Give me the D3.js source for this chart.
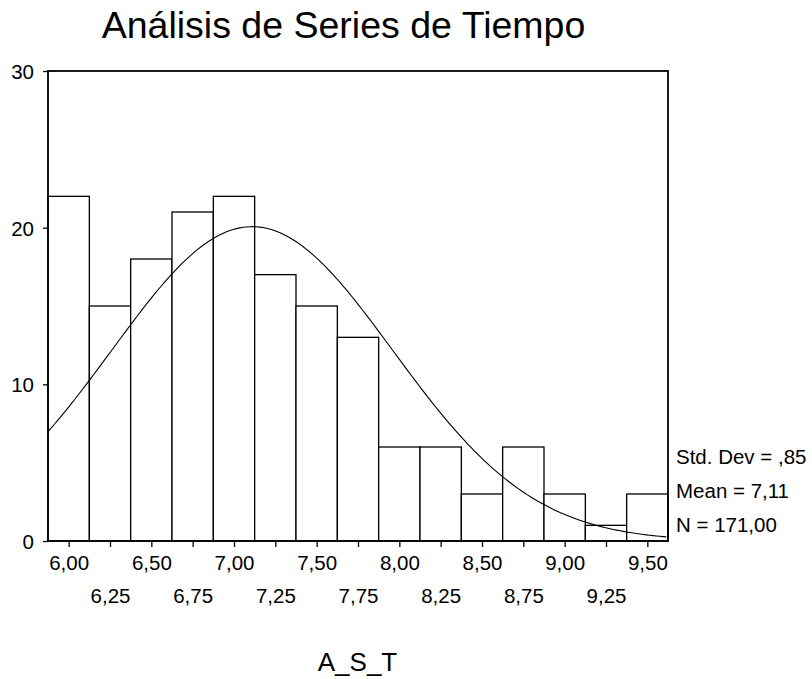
<!DOCTYPE html>
<meta charset="utf-8">
<style>
body { margin: 0; background: #fff; }
text { font-family: Arial, "Liberation Sans", sans-serif; fill: #000; }
</style>
<body>
<svg width="812" height="679"></svg>
<script src="https://d3js.org/d3.v7.min.js"></script>
<script>
// histogram bins (midpoints) and counts
var binMids = [6.00, 6.25, 6.50, 6.75, 7.00, 7.25, 7.50, 7.75, 8.00, 8.25, 8.50, 8.75, 9.00, 9.25, 9.50];
var counts  = [22, 15, 18, 21, 22, 17, 15, 13, 6, 6, 3, 6, 3, 1, 3];
var binWidth = 0.25;
var yTicks = [0, 10, 20, 30];
// statistics printed beside the chart (the normal curve is the fit they describe)
var stdDev = 0.85, mean = 7.11, nCases = 171;
var statLabels = ["Std. Dev = ,85", "Mean = 7,11", "N = 171,00"];

var svg = d3.select("svg"),
    margin = {top: 71, left: 48},
    width = 620,
    height = 470,
    g = svg.append("g").attr("transform", "translate(" + margin.left + "," + margin.top + ")");

var x = d3.scaleLinear()
    .domain([binMids[0] - binWidth / 2, binMids[binMids.length - 1] + binWidth / 2])
    .range([0, width]);

var y = d3.scaleLinear()
    .domain([0, 30])
    .range([height, 0]);

var comma = function(v) { return d3.format(".2f")(v).replace(".", ","); };

// bars
g.selectAll("rect.bar")
  .data(counts)
  .enter().append("rect")
    .attr("class", "bar")
    .attr("x", function(d, i) { return x(binMids[i] - binWidth / 2); })
    .attr("y", function(d) { return y(d); })
    .attr("width", x(binWidth) - x(0))
    .attr("height", function(d) { return y(0) - y(d); })
    .attr("fill", "#fff")
    .attr("stroke", "#000")
    .attr("stroke-width", 1.3);

// normal curve
var curve = d3.range(x.domain()[0], x.domain()[1] + 0.001, 0.02).map(function(v) {
  var z = (v - mean) / stdDev;
  return [v, nCases * binWidth / (stdDev * Math.sqrt(2 * Math.PI)) * Math.exp(-z * z / 2)];
});
g.append("path")
    .datum(curve)
    .attr("fill", "none")
    .attr("stroke", "#000")
    .attr("stroke-width", 1.1)
    .attr("d", d3.line()
        .x(function(d) { return x(d[0]); })
        .y(function(d) { return y(d[1]); }));

// frame
g.append("rect")
    .attr("width", width)
    .attr("height", height)
    .attr("fill", "none")
    .attr("stroke", "#000")
    .attr("stroke-width", 1.8);

// y axis
var yAxis = g.append("g")
    .call(d3.axisLeft(y).tickValues(yTicks).tickSize(5).tickPadding(9));
yAxis.select(".domain").remove();
yAxis.selectAll("text").style("font-size", "20.5px").attr("dy", "0.36em");
yAxis.selectAll("line").attr("stroke-width", 1.3);

// x axis, labels alternating between two rows
var xAxis = g.append("g")
    .attr("transform", "translate(0," + height + ")")
    .call(d3.axisBottom(x).tickValues(binMids).tickSize(6).tickFormat(comma));
xAxis.select(".domain").remove();
xAxis.selectAll("line").attr("stroke-width", 1.3);
xAxis.selectAll("text")
    .style("font-size", "20.5px")
    .attr("y", 0)
    .attr("dy", function(d, i) { return i % 2 === 0 ? 29 : 62; });

// title and axis label
svg.append("text")
    .attr("x", 343.5)
    .attr("y", 38)
    .attr("text-anchor", "middle")
    .style("font-size", "37.5px")
    .text("Análisis de Series de Tiempo");

svg.append("text")
    .attr("x", 357.5)
    .attr("y", 671)
    .attr("text-anchor", "middle")
    .style("font-size", "26px")
    .text("A_S_T");

// statistics
svg.selectAll("text.stat")
  .data(statLabels)
  .enter().append("text")
    .attr("class", "stat")
    .attr("x", 676)
    .attr("y", function(d, i) { return 464 + i * 34; })
    .style("font-size", "20.5px")
    .text(function(d) { return d; });
</script>
</body>
